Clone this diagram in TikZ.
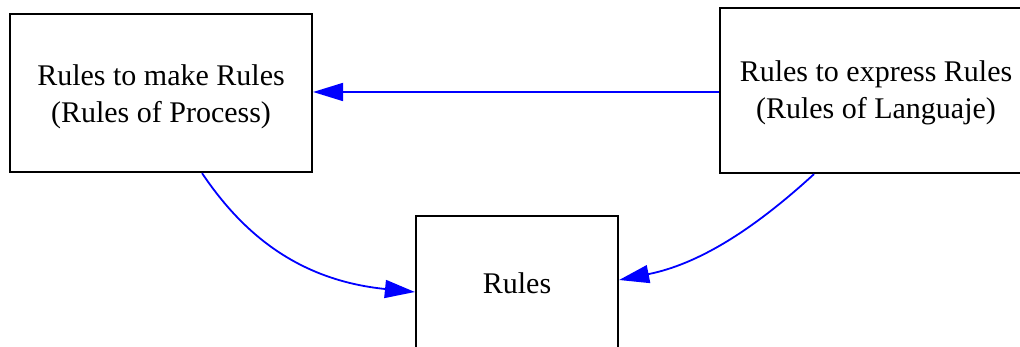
\documentclass[tikz,border=0pt]{standalone}
\usepackage{fontspec}
\setmainfont{Liberation Serif}
\usetikzlibrary{arrows.meta}
\begin{document}
\begin{tikzpicture}[x=1pt,y=-1pt,
  box/.style={draw=black,line width=2.2pt,inner sep=0pt},
  lbl/.style={align=center,inner sep=0pt,
    font=\fontsize{30}{37}\selectfont},
  conn/.style={draw=blue,line width=1.8pt,
    -{Triangle[length=30pt,width=18pt]}}]
  \clip (0,0) rectangle (1020,347);
  \fill[white] (0,0) rectangle (1020,347);
  % the three boxes, each with its caption
  \node[box,minimum width=302pt,minimum height=158pt,
    label={[lbl,name=Lt,yshift=-4pt]center:Rules to make Rules\\(Rules of Process)}]
    (L) at (161,93) {};
  \node[box,minimum width=312pt,minimum height=165pt,
    label={[lbl,name=Rt,yshift=-2pt]center:Rules to express Rules\\(Rules of Languaje)}]
    (R) at (876,90.5) {};
  \node[box,minimum width=202pt,minimum height=134pt,
    label={[lbl,name=Bt]center:Rules}]
    (B) at (517,283) {};
  % connectors
  \draw[conn] ([yshift=-1.5pt]R.west) -- ([yshift=-1.5pt]R.west -| L.east);
  \draw[conn] ([xshift=41pt]L.south) .. controls +(39,58) and +(-119,-12) ..
    ([yshift=-9pt]B.west);
  \draw[conn] ([xshift=-62pt]R.south) .. controls +(-60,55) and +(80,-16) ..
    ([yshift=3pt]B.east);
\end{tikzpicture}
\end{document}
